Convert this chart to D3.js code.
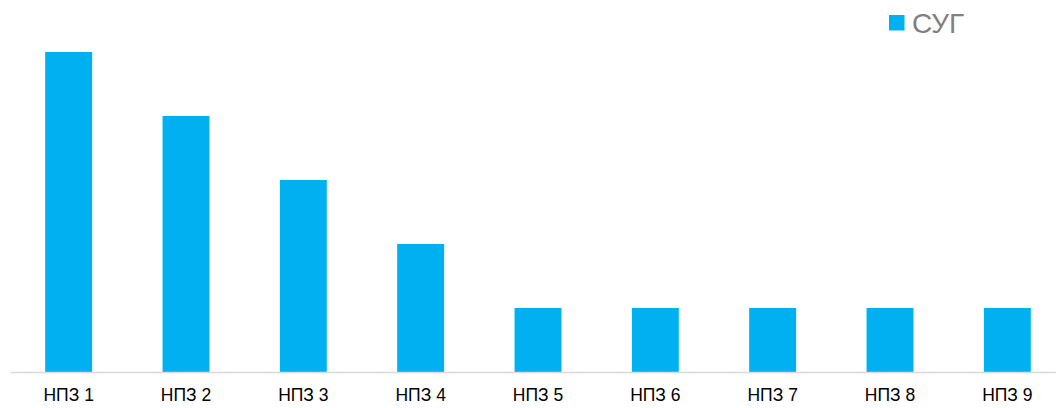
<!DOCTYPE html>
<html lang="ru">
<head>
<meta charset="UTF-8">
<script src="https://d3js.org/d3.v7.min.js"></script>
<style>
  body { margin: 0; background: #fff; font-family: "Liberation Sans", Arial, sans-serif; }
</style>
</head>
<body>
<div id="vis"></div>
<script>
// chart data
const categories = ["НПЗ 1", "НПЗ 2", "НПЗ 3", "НПЗ 4", "НПЗ 5", "НПЗ 6", "НПЗ 7", "НПЗ 8", "НПЗ 9"];
const values = [5, 4, 3, 2, 1, 1, 1, 1, 1];
const seriesName = "СУГ";

const width = 1056;
const height = 408;
const barColour = "#00b0f0";

const svg = d3.select("#vis").append("svg")
  .attr("width", width)
  .attr("height", height);

const x = d3.scaleBand()
  .domain(categories)
  .range([10, 1066])
  .paddingInner(0.6)
  .paddingOuter(0.3);

const y = d3.scaleLinear()
  .domain([0, 5])
  .range([372, 52]);

// bars
svg.selectAll(".bar")
  .data(values)
  .enter()
  .append("rect")
  .attr("class", "bar")
  .attr("x", (d, i) => x(categories[i]))
  .attr("width", x.bandwidth())
  .attr("y", d => y(d))
  .attr("height", d => y(0) - y(d))
  .attr("fill", barColour);

// x axis
const xAxis = svg.append("g")
  .attr("transform", `translate(0,${y(0)})`)
  .call(d3.axisBottom(x).tickSize(0).tickPadding(17));
xAxis.select(".domain").attr("stroke", "#d9d9d9").attr("stroke-width", 1.5);
xAxis.selectAll("text")
  .attr("fill", "#000")
  .style("font-size", "17.5px")
  .style("font-family", "Liberation Sans, Arial, sans-serif");

// legend
const legend = svg.append("g").attr("transform", "translate(889,15)");
legend.append("rect")
  .attr("width", 15.5)
  .attr("height", 15.5)
  .attr("fill", barColour);
legend.append("text")
  .attr("x", 23)
  .attr("y", 17.5)
  .attr("fill", "#808080")
  .style("font-size", "28px")
  .text(seriesName);
</script>
</body>
</html>
